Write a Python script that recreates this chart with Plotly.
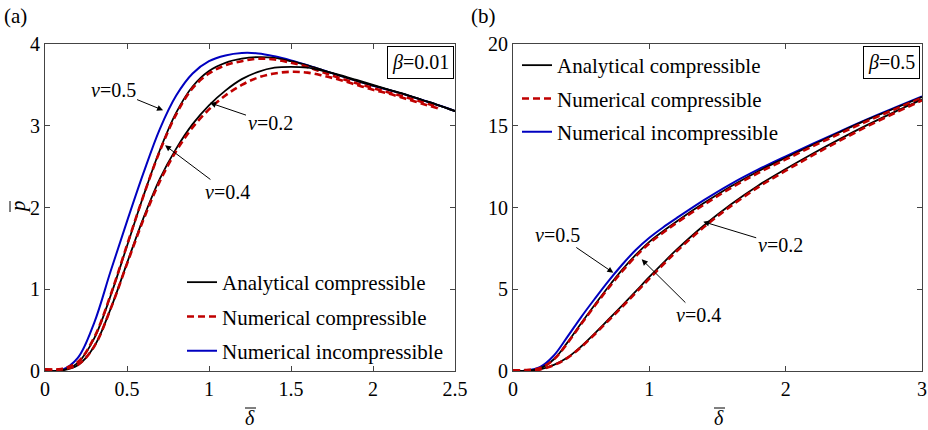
import plotly.graph_objects as go

# ---------------- data: panel (a), beta = 0.01 ----------------
delta_a = [0, 0.1, 0.2, 0.3, 0.4, 0.5, 0.6, 0.7, 0.8, 0.9, 1.0, 1.1, 1.2, 1.3, 1.4, 1.5, 1.6,
           1.7, 1.8, 1.9, 2.0, 2.1, 2.2, 2.3, 2.4, 2.5]
delta_a_num = delta_a[:-1]  # numerical compressible curves end at 2.4

a_incomp_05 = [0, 0.01, 0.16, 0.59, 1.22, 1.83, 2.42, 2.96, 3.37, 3.64, 3.79, 3.86, 3.89, 3.885,
               3.85, 3.8, 3.74, 3.675, 3.61, 3.55, 3.49, 3.435, 3.38, 3.315, 3.25, 3.18]
a_anal_04 = [0, 0.007, 0.1, 0.4, 0.92, 1.53, 2.14, 2.7, 3.16, 3.48, 3.67, 3.77, 3.82, 3.84, 3.83,
             3.79, 3.74, 3.675, 3.61, 3.55, 3.49, 3.435, 3.38, 3.315, 3.25, 3.18]
a_num_04 = [0.02, 0.025, 0.11, 0.41, 0.93, 1.54, 2.14, 2.69, 3.14, 3.46, 3.64, 3.74, 3.79, 3.82,
            3.81, 3.77, 3.72, 3.65, 3.58, 3.52, 3.46, 3.405, 3.35, 3.29, 3.23]
a_anal_02 = [0, 0.005, 0.07, 0.3, 0.76, 1.32, 1.87, 2.35, 2.72, 3.02, 3.25, 3.43, 3.57, 3.66,
             3.71, 3.72, 3.71, 3.67, 3.62, 3.56, 3.5, 3.44, 3.38, 3.315, 3.25, 3.18]
a_num_02 = [0.02, 0.02, 0.075, 0.3, 0.76, 1.31, 1.85, 2.32, 2.69, 2.98, 3.2, 3.37, 3.5, 3.59,
            3.64, 3.66, 3.65, 3.61, 3.56, 3.5, 3.44, 3.39, 3.33, 3.27, 3.21]

# ---------------- data: panel (b), beta = 0.5 ----------------
delta_b = [0, 0.1, 0.2, 0.3, 0.4, 0.5, 0.6, 0.7, 0.8, 0.9, 1.0, 1.1, 1.2, 1.4, 1.6, 1.8, 2.0,
           2.2, 2.4, 2.6, 2.8, 3.0]
b_incomp_05 = [0, 0.03, 0.25, 0.95, 2.1, 3.3, 4.42, 5.5, 6.5, 7.4, 8.15, 8.78, 9.35, 10.45, 11.45,
               12.33, 13.12, 13.9, 14.66, 15.4, 16.1, 16.8]
b_anal_04 = [0, 0.02, 0.17, 0.72, 1.75, 2.92, 4.05, 5.15, 6.18, 7.1, 7.9, 8.55, 9.15, 10.27, 11.3,
             12.22, 13.04, 13.84, 14.62, 15.37, 16.07, 16.76]
b_num_04 = [0.05, 0.06, 0.19, 0.71, 1.71, 2.87, 3.99, 5.07, 6.09, 7.01, 7.81, 8.46, 9.06, 10.17,
            11.2, 12.12, 12.94, 13.75, 14.53, 15.29, 16.0, 16.71]
b_anal_02 = [0, 0.01, 0.1, 0.37, 0.82, 1.5, 2.3, 3.15, 4.0, 4.87, 5.75, 6.6, 7.42, 8.9, 10.2,
             11.35, 12.35, 13.3, 14.2, 15.05, 15.85, 16.6]
b_num_02 = [0.05, 0.05, 0.1, 0.36, 0.8, 1.46, 2.25, 3.08, 3.92, 4.78, 5.65, 6.5, 7.32, 8.8, 10.1,
            11.25, 12.25, 13.2, 14.1, 14.97, 15.78, 16.55]

legend_names = ["Analytical compressible", "Numerical compressible", "Numerical incompressible"]
xticks_a = [0, 0.5, 1, 1.5, 2, 2.5]
yticks_a = [0, 1, 2, 3, 4]
xticks_b = [0, 1, 2, 3]
yticks_b = [0, 5, 10, 15, 20]

# ---------------- styling ----------------
FONT = "Liberation Serif, Times New Roman, serif"
BLACK = "#000000"
RED = "#C00000"
BLUE = "#0000C0"
W, H = 928, 430


def px(xp):
    return xp / W


def py(yp):
    return 1 - yp / H


fig = go.Figure()


def add_panel(xa, ya, leg, dx, dxn, inc, an4, nu4, an2, nu2):
    fig.add_trace(go.Scatter(x=dx, y=inc, mode="lines", xaxis=xa, yaxis=ya,
                             line=dict(color=BLUE, width=2, shape="spline", smoothing=1),
                             name=legend_names[2], legend=leg, legendgroup=leg + "c",
                             legendrank=3, showlegend=True))
    for an, nu, show in ((an4, nu4, True), (an2, nu2, False)):
        fig.add_trace(go.Scatter(x=dx, y=an, mode="lines", xaxis=xa, yaxis=ya,
                                 line=dict(color=BLACK, width=1.8, shape="spline", smoothing=1),
                                 name=legend_names[0], legend=leg, legendgroup=leg + "a",
                                 legendrank=1, showlegend=show))
        fig.add_trace(go.Scatter(x=dxn[:len(nu)], y=nu, mode="lines", xaxis=xa, yaxis=ya,
                                 line=dict(color=RED, width=2.6, dash="7px,4px", shape="spline",
                                           smoothing=1),
                                 name=legend_names[1], legend=leg, legendgroup=leg + "b",
                                 legendrank=2, showlegend=show))


add_panel("x", "y", "legend", delta_a, delta_a_num, a_incomp_05, a_anal_04, a_num_04, a_anal_02, a_num_02)
add_panel("x2", "y2", "legend2", delta_b, delta_b, b_incomp_05, b_anal_04, b_num_04, b_anal_02, b_num_02)

axis_common = dict(showgrid=False, zeroline=False, showline=True, linecolor="#444", linewidth=1,
                   mirror="ticks", ticks="inside", ticklen=5, tickcolor="#444", tickwidth=1,
                   automargin=False, tickfont=dict(family=FONT, size=20, color="black"))

leg_font = dict(family=FONT, size=21, color="black")
fig.update_layout(
    width=W, height=H, autosize=False, margin=dict(l=0, r=0, t=0, b=0, pad=0),
    paper_bgcolor="white", plot_bgcolor="white",
    font=dict(family=FONT, size=20, color="black"),
    xaxis=dict(domain=[px(45), px(455)], range=[0, 2.5], tickvals=xticks_a,
               ticktext=[str(v) for v in xticks_a], anchor="y", **axis_common),
    yaxis=dict(domain=[py(371), py(44)], range=[0, 4], tickvals=yticks_a,
               ticktext=[str(v) for v in yticks_a], anchor="x", **axis_common),
    xaxis2=dict(domain=[px(513), px(922)], range=[0, 3], tickvals=xticks_b,
                ticktext=[str(v) for v in xticks_b], anchor="y2", **axis_common),
    yaxis2=dict(domain=[py(371), py(44)], range=[0, 20], tickvals=yticks_b,
                ticktext=[str(v) for v in yticks_b], anchor="x2", **axis_common),
    legend=dict(x=px(182), y=py(262), xanchor="left", yanchor="top", bgcolor="rgba(0,0,0,0)",
                font=leg_font, traceorder="grouped", tracegroupgap=4, itemwidth=30),
    legend2=dict(x=px(517), y=py(45), xanchor="left", yanchor="top", bgcolor="rgba(0,0,0,0)",
                 font=leg_font, traceorder="grouped", tracegroupgap=3, itemwidth=30),
)

ann = []
ann.append(dict(text="(a)", x=px(2), y=py(16), xref="paper", yref="paper", xanchor="left",
                yanchor="middle", showarrow=False, font=dict(family=FONT, size=21)))
ann.append(dict(text="(b)", x=px(469), y=py(16), xref="paper", yref="paper", xanchor="left",
                yanchor="middle", showarrow=False, font=dict(family=FONT, size=21)))
# axis titles (overbars drawn as short shapes)
for xc in (250, 719):
    ann.append(dict(text="<i>δ</i>", x=px(xc), y=py(418), xref="paper", yref="paper",
                    xanchor="center", yanchor="middle", showarrow=False,
                    font=dict(family=FONT, size=20)))
ann.append(dict(text="<i>p</i>", x=px(18), y=py(207), xref="paper", yref="paper",
                xanchor="center", yanchor="middle", showarrow=False, textangle=-90,
                font=dict(family=FONT, size=21)))
# beta boxes
ann.append(dict(text="<i>β</i>=0.01", x=px(420), y=py(63), xref="paper", yref="paper",
                xanchor="center", yanchor="middle", showarrow=False, bordercolor="black",
                borderwidth=1, borderpad=4, bgcolor="white", font=dict(family=FONT, size=20)))
ann.append(dict(text="<i>β</i>=0.5", x=px(891), y=py(63), xref="paper", yref="paper",
                xanchor="center", yanchor="middle", showarrow=False, bordercolor="black",
                borderwidth=1, borderpad=4, bgcolor="white", font=dict(family=FONT, size=20)))

nu_labels = [
    ("0.5", 0.72, 3.19, 0.415, 3.44, "x", "y"),
    ("0.2", 1.006, 3.28, 1.372, 3.03, "x", "y"),
    ("0.4", 0.732, 2.76, 1.11, 2.19, "x", "y"),
    ("0.5", 0.736, 6.01, 0.33, 8.32, "x2", "y2"),
    ("0.4", 0.944, 6.83, 1.357, 3.42, "x2", "y2"),
    ("0.2", 1.396, 9.13, 1.96, 7.7, "x2", "y2"),
]
for lab, tx, ty, axx, ayy, xr, yr in nu_labels:
    ann.append(dict(text="<i>ν</i>=" + lab, x=tx, y=ty, ax=axx, ay=ayy, xref=xr, yref=yr,
                    axref=xr, ayref=yr, showarrow=True, arrowhead=2, arrowsize=1.2,
                    arrowwidth=1, arrowcolor="black", standoff=0,
                    font=dict(family=FONT, size=20)))

shapes = []
for xc in (250, 719):
    shapes.append(dict(type="line", xref="paper", yref="paper", x0=px(xc - 5), x1=px(xc + 6),
                       y0=py(408), y1=py(408), line=dict(color="black", width=1)))
shapes.append(dict(type="line", xref="paper", yref="paper", x0=px(10), x1=px(10),
                   y0=py(201), y1=py(212), line=dict(color="black", width=1)))

fig.update_layout(annotations=ann, shapes=shapes)
fig.write_html("out.html")
